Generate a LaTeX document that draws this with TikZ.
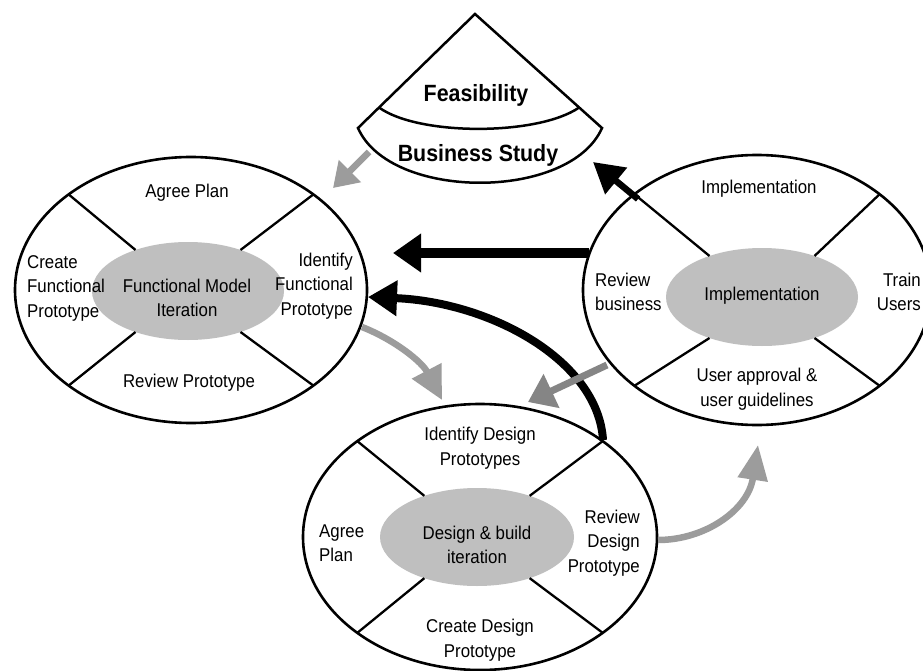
\documentclass[tikz,border=0pt]{standalone}
\usepackage{fontspec}
\setmainfont{Liberation Sans}[FakeStretch=0.91]
\usetikzlibrary{arrows.meta,shapes.geometric,calc}
\definecolor{fillgray}{HTML}{BFBFBF}
\definecolor{lightarrow}{HTML}{9C9C9C}
\definecolor{darkarrow}{HTML}{858585}
\begin{document}
\begin{tikzpicture}[x=1pt,y=-1pt,
  outerell/.style={ellipse, draw, line width=2.6pt, inner sep=0pt, outer sep=0pt},
  coreell/.style={ellipse, fill=fillgray, inner sep=0pt, outer sep=0pt},
  divider/.style={line width=2.3pt},
  lbl/.style={font=\fontsize{18.5}{24.5}\selectfont, inner sep=0pt},
  titlelbl/.style={font=\bfseries\fontsize{23.5}{26}\selectfont, inner sep=0pt},
  garrow/.style={draw=lightarrow, line width=6.5pt},
  darrow/.style={draw=darkarrow, line width=7pt},
  barrow/.style={draw=black}
]
\useasboundingbox (0,0) rectangle (923,671);
\clip (0,0) rectangle (923,671);
\fill[white] (0,0) rectangle (923,671);

% ---------- left ellipse ----------
\node[outerell, minimum width=352pt, minimum height=266pt] (L) at (191,290) {};
\node[coreell, minimum width=192pt, minimum height=98pt] (Lc) at (188,291) {};
\foreach \a in {38,142,218,322} \draw[divider] (Lc.\a) -- (L.\a);
\node[lbl] (Lt) at (187,193) {Agree Plan};
\node[lbl, align=left, anchor=west] (Ll) at (27,288) {Create\\Functional\\Prototype};
\node[lbl, align=center] (Lm) at (187,298) {Functional Model\\Iteration};
\node[lbl, align=right, anchor=east] (Lr) at (353,286) {Identify\\Functional\\Prototype};
\node[lbl] (Lb) at (189,383) {Review Prototype};

% ---------- right ellipse ----------
\node[outerell, minimum width=348pt, minimum height=270pt] (R) at (757,290) {};
\node[coreell, minimum width=192pt, minimum height=98pt] (Rc) at (762,297) {};
\foreach \a in {38,142,218,322} \draw[divider] (Rc.\a) -- (R.\a);
\node[lbl] (Rt) at (759,189) {Implementation};
\node[lbl, align=left, anchor=west] (Rl) at (595,292) {Review\\business};
\node[lbl] (Rm) at (762,296) {Implementation};
\node[lbl, align=right, anchor=east] (Rr) at (921,292) {Train\\Users};
\node[lbl, align=center] (Rb) at (757,389) {User approval \&\\user guidelines};

% ---------- bottom ellipse ----------
\node[outerell, minimum width=354pt, minimum height=266pt] (B) at (480,537) {};
\node[coreell, minimum width=194pt, minimum height=98pt] (Bc) at (477,537) {};
\foreach \a in {38,142,218,322} \draw[divider] (Bc.\a) -- (B.\a);
\node[lbl, align=center] (Bt) at (480,448) {Identify Design\\Prototypes};
\node[lbl, align=left, anchor=west] (Bl) at (319,543) {Agree\\Plan};
\node[lbl, align=center] (Bm) at (477,545) {Design \& build\\iteration};
\node[lbl, align=right, anchor=east] (Br) at (640,543) {Review\\Design\\Prototype};
\node[lbl, align=center] (Bb) at (480,640) {Create Design\\Prototype};

% ---------- arrow end points ----------
\coordinate (a1s) at (369,152);
\coordinate (a1e) at (333,188);
\coordinate (a2s) at (638,199);
\coordinate (a2e) at (593,162);
\coordinate (a3s) at (589,253);
\coordinate (a3e) at (393,253);
\coordinate (a4s) at (603,440);
\coordinate (a4e) at (368,297);
\coordinate (a5s) at (362,327);
\coordinate (a5e) at (442,400);
\coordinate (a6s) at (607,365);
\coordinate (a6e) at (528,402);
\coordinate (a7s) at (658,540);
\coordinate (a7e) at (758,445);

% ---------- arrows ----------
\draw[garrow, -{Triangle[length=24pt,width=30pt]}] (a1s) -- (a1e);
\draw[barrow, line width=6.5pt, -{Triangle[length=30pt,width=33pt]}] (a2s) -- (a2e);
\draw[barrow, line width=10pt, -{Triangle[length=28pt,width=37pt]}] (a3s) -- (a3e);
\draw[barrow, line width=8pt, -{Triangle[length=29pt,width=34pt]}] (a4s) .. controls (598,360) and (490,302) .. (a4e);
\draw[garrow, -{Triangle[length=33pt,width=32pt]}] (a5s) .. controls (395,340) and (422,362) .. (a5e);
\draw[darrow, -{Triangle[length=26pt,width=36pt]}] (a6s) -- (a6e);
\draw[garrow, -{Triangle[length=35pt,width=29pt]}] (a7s) .. controls (705,540) and (748,510) .. (a7e);

% ---------- feasibility / business study ----------
\coordinate (F0) at (475,14);
\coordinate (F1) at (358,128);
\coordinate (F2) at (602,128);
\draw[line width=2.5pt, fill=white, line join=miter] (F0) -- (F1) .. controls (390,201) and (570,201) .. (F2) -- cycle;
\draw[line width=2.5pt] ($(F0)!0.82!(F1)$) .. controls (418,136) and (538,136) .. ($(F0)!0.82!(F2)$);
\node[titlelbl] (Ft) at (476,95) {Feasibility};
\node[titlelbl] (Fb) at (478,155) {Business Study};
\end{tikzpicture}
\end{document}
